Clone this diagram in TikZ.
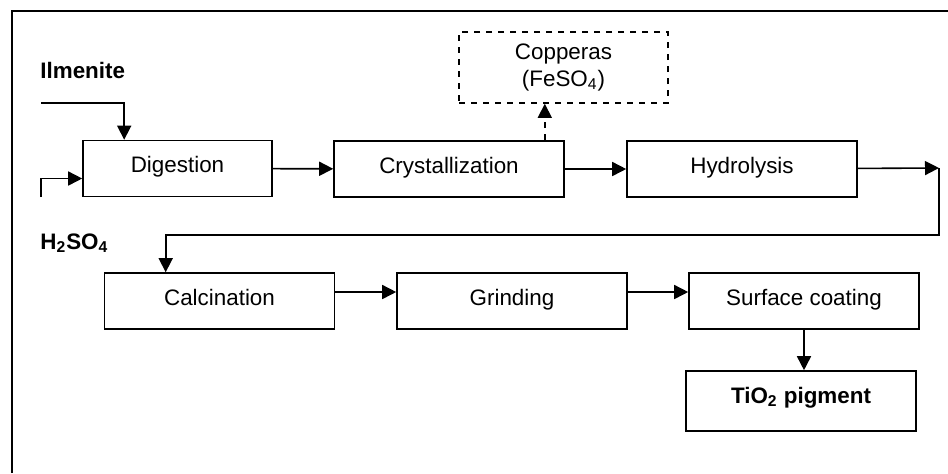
\documentclass[tikz,border=0pt]{standalone}
\usepackage{fontspec}
\setmainfont{Liberation Sans}
\usetikzlibrary{arrows.meta,positioning,calc}
\tikzset{
	stage/.style={draw, line width=0.8pt, minimum width=115pt, minimum height=28pt,
		inner sep=2pt, text height=8pt, text depth=4pt},
	byproduct/.style={draw, dashed, line width=0.8pt, minimum width=104.5pt,
		minimum height=35.5pt, align=center},
	feed/.style={font=\fontsize{11.2}{13}\selectfont\bfseries, anchor=west, inner sep=0pt},
	flow/.style={-{Triangle[length=7pt,width=7pt]}, line width=0.8pt}
}

\begin{document}
\begin{tikzpicture}[x=0.5pt, y=-0.5pt, font=\fontsize{11.2}{13.5}\selectfont]
	\useasboundingbox (0,0) rectangle (948,473);
	\draw[line width=1pt] (12,473) -- (12,11) -- (948,11);
	
	% first row
	\node[stage, minimum width=94.5pt] (dig) at (177.5,168.5) {Digestion};
	\node[stage] (cry) at (449,169) {Crystallization};
	\node[stage] (hyd) at (742,169) {Hydrolysis};
	\node[byproduct] (cop) at (563.5,67.5) {Copperas\\(FeSO\textsubscript{4})};
	
	% second row
	\node[stage] (cal) at (219.5,301) {Calcination};
	\node[stage] (grd) at (512,301) {Grinding};
	\node[stage] (sur) at (804,301) {Surface coating};
	\node[stage, minimum height=30pt, text depth=6pt, font=\fontsize{11.2}{13}\selectfont\bfseries] (tio) at (801,401) {TiO\textsubscript{2} pigment};
	
	% feeds
	\node[feed] (ilm) at (40,70) {Ilmenite};
	\node[feed] (acid) at (40,243) {H\textsubscript{2}SO\textsubscript{4}};
	\coordinate (ilmin) at (41,103);
	\coordinate (acidin) at (41,197);
	\coordinate (turn) at (939,168);
	\coordinate (back) at (939,235);
	
	\draw[flow] (ilmin) -| ([xshift=21pt]dig.north west);
	\draw[flow] (acidin) |- ([yshift=-5pt]dig.west);
	\draw[flow] (dig) -- (cry);
	\draw[flow] (cry) -- (hyd);
	\draw[flow, dashed] ([xshift=-10pt]cry.north east) -- ([xshift=-10pt]cry.north east |- cop.south);
	\draw[flow] (hyd) -- (turn);
	\draw[flow] (turn) -- (back) -| ([xshift=31pt]cal.north west);
	\draw[flow] ([yshift=4.5pt]cal.east) -- ([yshift=4.5pt]grd.west);
	\draw[flow] ([yshift=4.5pt]grd.east) -- ([yshift=4.5pt]sur.west);
	\draw[flow] (sur.south) -- (sur.south |- tio.north);
\end{tikzpicture}
\end{document}
